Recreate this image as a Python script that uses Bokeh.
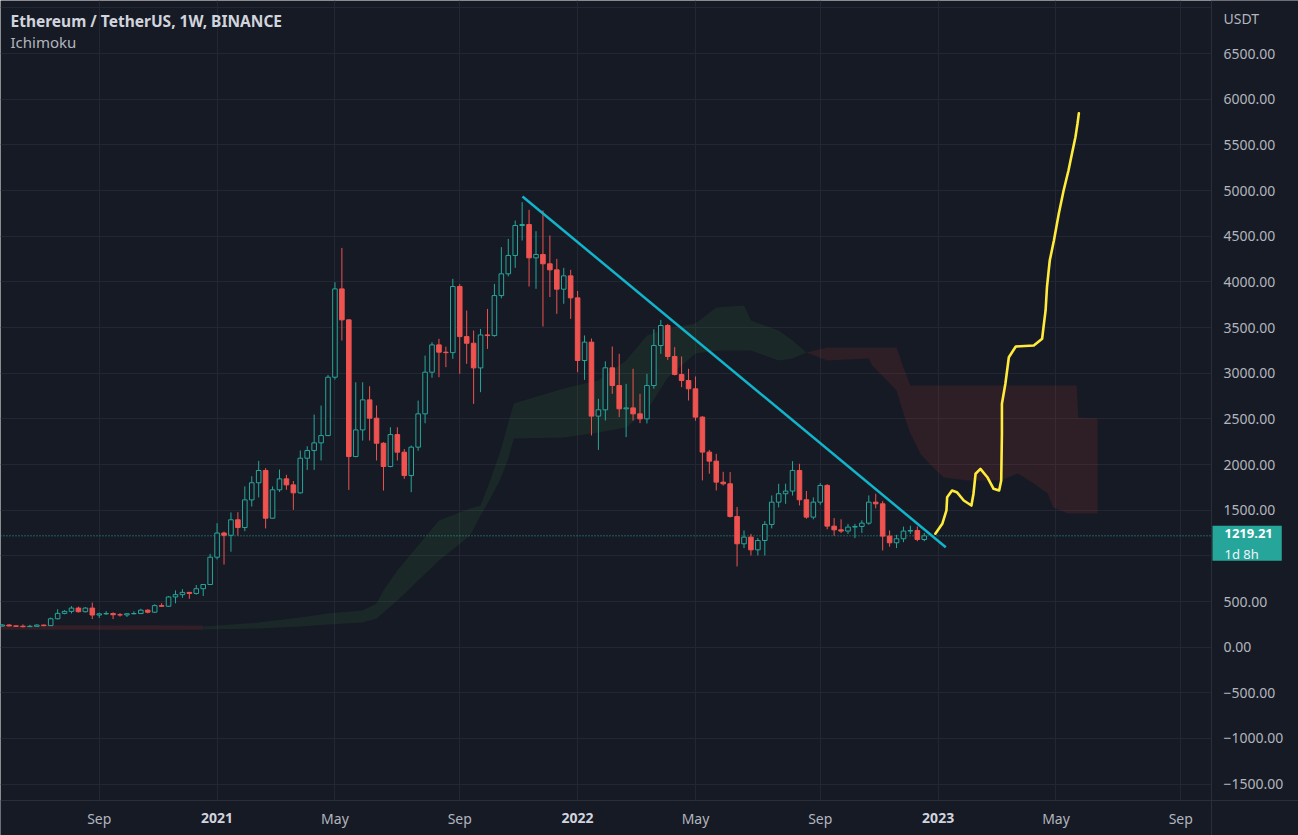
import numpy as np
import pandas as pd
from bokeh.plotting import figure
from bokeh.models import Range1d, FixedTicker, Label, ColumnDataSource
from bokeh.embed import file_html
from bokeh.resources import INLINE

# ---------------- data ----------------
first_week = "2020-06-01"   # week index 0 (Monday bars, 1W)
opens = [231,243,233,229,225,228,242,236,311,370,
         392,428,388,428,352,365,368,355,353,366,
         368,405,383,455,448,550,575,600,588,640,
         686,985,1250,1225,1395,1310,1613,1800,1935,1412,
         1723,1843,1777,1690,2069,2153,2237,2317,2956,3923,
         3584,2087,2379,2708,2507,2233,1978,2328,2135,1879,
         2190,2555,3011,3310,3230,3225,3949,3401,3328,3058,
         3419,3412,3850,4088,4289,4617,4628,4263,4300,4198,
         4132,3920,4066,3825,3139,3340,2530,2599,3059,2865,
         2610,2620,2555,2500,2865,3303,3522,3183,2986,2920,
         2829,2519,2136,2037,1807,1789,1431,1132,1205,1066,
         1168,1344,1588,1680,1709,1935,1614,1424,1588,1771,
         1325,1285,1271,1315,1322,1358,1588,1570,1216,1143,
         1187,1271,1278,1179]
highs = [253,250,240,249,245,250,245,325,415,405,
         449,444,438,488,378,395,381,373,368,393,
         420,416,470,482,560,622,635,601,680,690,
         1022,1358,1265,1475,1478,1760,1872,2040,1960,1760,
         1945,1887,1820,2153,2200,2547,2646,2980,3996,4372,
         3590,2901,2901,2857,2646,2245,2408,2408,2170,2208,
         2700,3193,3339,3376,3290,4033,3975,3686,3467,3485,
         3704,3978,4380,4471,4672,4873,4789,4555,4782,4508,
         4252,4154,4132,3900,3413,3380,2719,3130,3292,3212,
         2883,3048,2774,2993,3480,3584,3540,3285,3183,3048,
         2964,2530,2160,2117,1920,1917,1535,1278,1240,1195,
         1380,1661,1789,1790,2037,2008,1710,1640,1796,1785,
         1413,1400,1350,1350,1390,1661,1680,1600,1278,1230,
         1320,1330,1322,1250]
lows = [226,226,222,216,223,225,229,232,304,360,
        370,380,380,308,320,355,308,335,330,360,
        362,370,374,440,440,480,540,530,575,560,
        680,960,905,1045,1222,1270,1540,1640,1300,1410,
        1700,1723,1504,1680,1941,1941,2044,2310,2930,3358,
        1722,2080,2262,2262,2044,1715,1970,2044,1843,1697,
        2150,2452,2950,2956,3066,3157,2993,3102,2664,2792,
        3266,3400,3820,4060,4154,4453,3949,3924,3511,3833,
        3650,3760,3595,3011,2927,2318,2160,2482,2774,2519,
        2300,2482,2453,2450,2830,3212,3146,2975,2847,2701,
        2480,1826,1899,1716,1770,1420,884,1085,1004,1004,
        1004,1300,1530,1570,1660,1552,1406,1400,1560,1290,
        1220,1250,1240,1194,1250,1340,1520,1059,1100,1085,
        1150,1240,1160,1160]
closes = [243,233,229,225,228,242,236,311,370,392,
          428,388,428,352,365,368,355,353,366,368,
          405,383,455,448,550,575,600,588,640,686,
          985,1250,1225,1395,1310,1613,1800,1935,1412,1723,
          1843,1777,1690,2069,2153,2237,2317,2956,3923,3584,
          2087,2379,2708,2507,2233,1978,2328,2135,1879,2190,
          2555,3011,3310,3230,3225,3949,3401,3328,3058,3419,
          3412,3850,4088,4289,4617,4628,4263,4300,4198,4132,
          3920,4066,3825,3139,3340,2530,2599,3059,2865,2610,
          2620,2555,2500,2865,3303,3522,3183,2986,2920,2829,
          2519,2136,2037,1807,1789,1431,1132,1205,1066,1168,
          1344,1588,1680,1709,1935,1614,1424,1588,1771,1325,
          1285,1271,1315,1322,1358,1588,1570,1216,1143,1187,
          1271,1278,1179,1219.21]
last_price = 1219.21
last_label = "1219.21"
countdown = "1d 8h"

# Ichimoku cloud, week index -> span values
cloud_red1_week = [-1, 29]
cloud_red1_top = [240, 238]
cloud_red1_bot = [190, 192]
cloud_green_week = [29, 37, 43, 47, 52, 54, 55, 57, 60, 63, 67.5, 69, 70.4, 71.9, 72.9, 73.8, 81, 86, 90, 93, 96, 100, 103, 107, 108, 112, 114, 116]
cloud_green_top = [225, 270, 325, 369, 402, 478, 621, 840, 1113, 1387, 1519, 1552, 1825, 2153, 2427, 2668, 2832, 2920, 3139, 3412, 3489, 3544, 3719, 3741, 3577, 3468, 3358, 3227]
cloud_green_bot = [193, 205, 227, 248, 270, 314, 380, 511, 730, 949, 1223, 1442, 1628, 1847, 2044, 2285, 2296, 2351, 2406, 2592, 2953, 3216, 3249, 3249, 3249, 3139, 3161, 3227]
cloud_red_week = [116, 119, 125, 125.5, 129, 130, 131, 132.5, 134.3, 135.8, 139.2, 144, 146.5, 148.8, 150.8, 151.6, 153.7, 155, 155.2, 158]
cloud_red_top = [3227, 3281, 3281, 3281, 3281, 3062, 2865, 2865, 2865, 2865, 2865, 2865, 2865, 2865, 2865, 2865, 2865, 2865, 2515, 2504]
cloud_red_bot = [3227, 3139, 3161, 3084, 2811, 2559, 2340, 2110, 1968, 1858, 1825, 1825, 1902, 1792, 1683, 1530, 1464, 1464, 1464, 1464]

# trend line (week index, price)
trend_week = [75.05, 136.1]
trend_price = [4935, 1095]

# hand drawn yellow projection (week index, price)
proj_week = [134.6, 135.6, 136.2, 136.3, 137.0, 137.7, 138.7, 139.8, 140.1, 140.4, 141.1, 142.1, 143.0, 143.8, 144.1, 144.2, 144.2, 144.7, 145.2, 146.2, 148.8, 150.0, 150.2, 150.5, 150.7, 151.1, 151.7, 152.4, 153.1, 153.8, 154.3, 154.8, 155.1, 155.3]
proj_price = [1242, 1351, 1497, 1642, 1716, 1697, 1606, 1551, 1680, 1899, 1953, 1861, 1734, 1716, 1825, 2337, 2665, 2884, 3175, 3292, 3303, 3377, 3504, 3687, 3942, 4234, 4453, 4745, 5000, 5219, 5402, 5584, 5731, 5847]

# 1000.00 is hidden behind the last-price tag in the reference
price_ticks = [-1500, -1000, -500, 0, 500, 1500, 2000, 2500, 3000, 3500, 4000, 4500, 5000, 5500, 6000, 6500]
grid_prices = list(range(-1500, 7500, 500))
time_ticks = ["2020-09-07", "2021-01-04", "2021-05-03", "2021-09-06", "2022-01-03",
              "2022-05-02", "2022-09-05", "2023-01-02", "2023-05-01", "2023-09-04"]
time_labels = ["Sep", "2021", "May", "Sep", "2022", "May", "Sep", "2023", "May", "Sep"]

title_text = "Ethereum / TetherUS, 1W, BINANCE"
indicator_text = "Ichimoku"
currency = "USDT"

# ---------------- layout / styling ----------------
W, H = 1298, 835
PANE_W, PANE_H = 1211, 800          # price pane size in px
BG = "#161a25"
GRID = "#232734"
SEP = "#2a2e39"
UP = "#26a69a"
DOWN = "#ef5350"
TXT = "#b2b5be"
TREND = "#12b4cc"
YEL = "#ffeb3b"
FONT = "Noto Sans"

WEEK_MS = 7 * 24 * 3600 * 1000
t0 = pd.Timestamp(first_week).value // 10**6


def wk(k):
    return t0 + np.asarray(k, dtype=float) * WEEK_MS


def ms(d):
    return float(pd.Timestamp(d).value // 10**6)


# visible pane: weeks -0.24 .. 174.43, prices -1679 .. 7081
wk_lo, wk_hi = -0.24, 174.43
pr_lo, pr_hi = -1679.0, 7081.0
px_per_wk = PANE_W / (wk_hi - wk_lo)
px_per_pr = PANE_H / (pr_hi - pr_lo)
x_start, x_axis = float(wk(wk_lo)), float(wk(wk_hi))
x_end = float(wk(wk_lo + W / px_per_wk))
y_axis, y_end = pr_lo, pr_hi
y_start = pr_lo - (H - PANE_H) / px_per_pr

o = np.array(opens, float); h = np.array(highs, float)
l = np.array(lows, float); c = np.array(closes, float)
xk = wk(np.arange(len(o)))
up = c >= o
body_top = np.maximum(o, c); body_bot = np.minimum(o, c)

p = figure(width=W, height=H, output_backend="svg", toolbar_location=None,
           x_range=Range1d(x_start, x_end), y_range=Range1d(y_start, y_end),
           y_axis_location="right", min_border=0, title=None)
p.background_fill_color = BG
p.border_fill_color = BG
p.outline_line_color = None

# grids
p.xgrid.ticker = FixedTicker(ticks=[ms(t) for t in time_ticks])
p.ygrid.ticker = FixedTicker(ticks=grid_prices)
p.xgrid.grid_line_color = GRID
p.ygrid.grid_line_color = GRID

# axis panels (mask grid outside the price pane)
p.quad(left=x_axis, right=x_end, bottom=y_start, top=y_end, fill_color=BG, line_color=None)
p.quad(left=x_start, right=x_end, bottom=y_start, top=y_axis, fill_color=BG, line_color=None)

# axes
ax = p.yaxis[0]
ax.fixed_location = x_axis
ax.ticker = FixedTicker(ticks=price_ticks)
ax.major_label_overrides = {v: f"{v:.2f}".replace("-", "\u2212") for v in price_ticks}
ax.axis_line_color = SEP
ax.major_tick_line_color = None
ax.minor_tick_line_color = None
ax.major_tick_out = 0
ax.major_tick_in = 0
ax.major_label_standoff = 12
ax.major_label_text_color = TXT
ax.major_label_text_font = FONT
ax.major_label_text_font_size = "14px"

bx = p.xaxis[0]
bx.fixed_location = y_axis
bx.ticker = FixedTicker(ticks=[ms(t) for t in time_ticks])
bx.major_label_overrides = {ms(t): (lab if not lab.isdigit() else "") for t, lab in zip(time_ticks, time_labels)}
bx.axis_line_color = SEP
bx.major_tick_line_color = None
bx.minor_tick_line_color = None
bx.major_tick_out = 0
bx.major_tick_in = 0
bx.major_label_standoff = 8
bx.major_label_text_color = TXT
bx.major_label_text_font = FONT
bx.major_label_text_font_size = "14px"

for t, lab in zip(time_ticks, time_labels):
    if lab.isdigit():
        p.add_layout(Label(x=ms(t), y=H - 817, x_units="data", y_units="screen", text=lab,
                           text_align="center", text_baseline="middle", text_color="#d1d4dc",
                           text_font=FONT, text_font_size="14px", text_font_style="bold"))

# ichimoku cloud
p.varea(x=wk(cloud_red1_week), y1=cloud_red1_bot, y2=cloud_red1_top, fill_color="#f44336", fill_alpha=0.13)
p.varea(x=wk(cloud_green_week), y1=cloud_green_bot, y2=cloud_green_top, fill_color="#43a047", fill_alpha=0.11)
p.varea(x=wk(cloud_red_week), y1=cloud_red_bot, y2=cloud_red_top, fill_color="#f44336", fill_alpha=0.11)

# last price dotted line
p.segment(x0=x_start, y0=last_price, x1=x_axis, y1=last_price, line_color=UP,
          line_dash="1 2", line_width=1)

# candles
col = np.where(up, UP, DOWN)
src = ColumnDataSource(dict(x=xk, h=h, l=l, bt=body_top, bb=body_bot, col=col,
                            fill=np.where(up, BG, DOWN)))
p.segment(x0="x", y0="h", x1="x", y1="bt", line_color="col", line_width=1, source=src)
p.segment(x0="x", y0="bb", x1="x", y1="l", line_color="col", line_width=1, source=src)
p.vbar(x="x", width=0.66 * WEEK_MS, top="bt", bottom="bb", fill_color="fill",
       line_color="col", line_width=1, source=src)

# trend line & projection
p.line(wk(trend_week), trend_price, line_color=TREND, line_width=2.5)
p.line(wk(proj_week), proj_price, line_color=YEL, line_width=2.6, line_join="round", line_cap="round")

# texts
p.add_layout(Label(x=10, y=H - 20, x_units="screen", y_units="screen", text=title_text,
                   text_color="#d1d4dc", text_font=FONT, text_font_size="15.5px",
                   text_font_style="bold", text_baseline="middle"))
p.add_layout(Label(x=10, y=H - 41, x_units="screen", y_units="screen", text=indicator_text,
                   text_color="#b2b5be", text_font=FONT, text_font_size="15px",
                   text_baseline="middle"))
p.add_layout(Label(x=1223, y=H - 18, x_units="screen", y_units="screen", text=currency,
                   text_color=TXT, text_font=FONT, text_font_size="14px",
                   text_baseline="middle"))
# last price tag (box anchored at its top-left corner)
p.add_layout(Label(x=PANE_W + 1, y=last_price, x_units="screen", y_units="data", y_offset=10,
                   text=last_label, text_color="#ffffff", text_font=FONT,
                   text_font_size="13px", text_font_style="bold",
                   text_align="left", text_baseline="top",
                   background_fill_color=UP,
                   padding=dict(left=12, right=9, top=3, bottom=23)))
p.add_layout(Label(x=PANE_W + 13, y=last_price, x_units="screen", y_units="data", y_offset=-18,
                   text=countdown, text_color="#f0f3fa", text_font=FONT,
                   text_font_size="13px", text_baseline="middle"))

open("out.html", "w").write(file_html(p, INLINE))
